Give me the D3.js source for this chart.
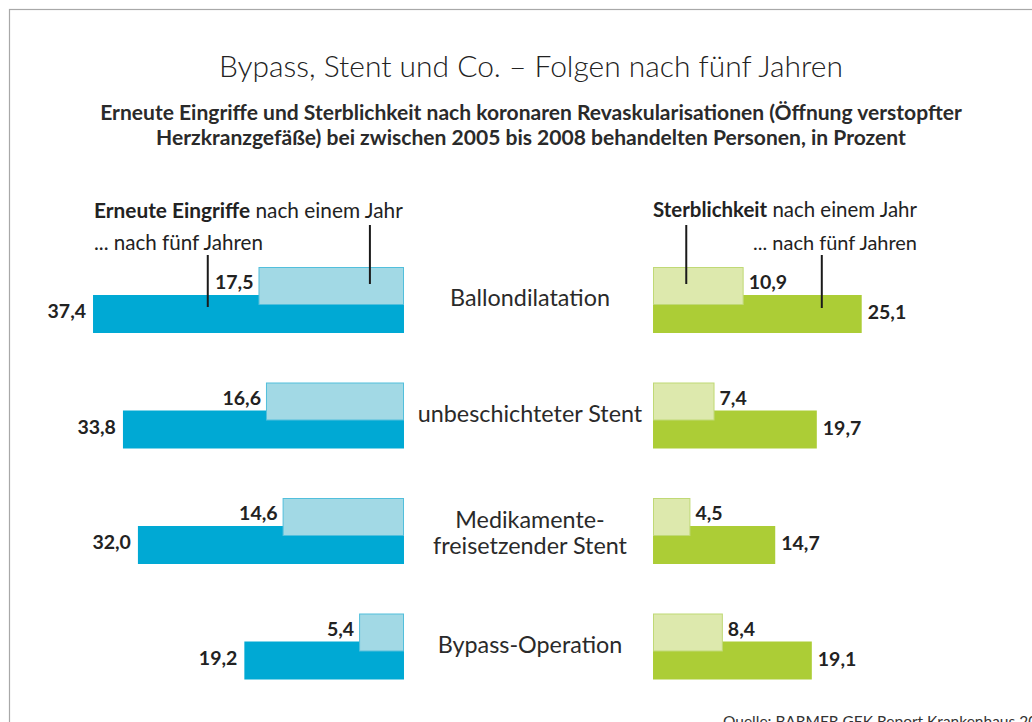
<!DOCTYPE html>
<html><head><meta charset="utf-8">
<script src="https://cdn.jsdelivr.net/npm/d3@7"></script>
<style>body{margin:0;background:#fff;overflow:hidden} svg{display:block}</style>
</head><body>
<script>
// ---- data ----
const categories = ["Ballondilatation", "unbeschichteter Stent", "Medikamente-\nfreisetzender Stent", "Bypass-Operation"];
const eingriffeEinJahr = [17.5, 16.6, 14.6, 5.4];
const eingriffeFuenfJahre = [37.4, 33.8, 32.0, 19.2];
const sterblichkeitEinJahr = [10.9, 7.4, 4.5, 8.4];
const sterblichkeitFuenfJahre = [25.1, 19.7, 14.7, 19.1];
const titleText = "Bypass, Stent und Co. – Folgen nach fünf Jahren";
const subtitleLines = ["Erneute Eingriffe und Sterblichkeit nach koronaren Revaskularisationen (Öffnung verstopfter",
                       "Herzkranzgefäße) bei zwischen 2005 bis 2008 behandelten Personen, in Prozent"];
const sourceText = "Quelle: BARMER GEK Report Krankenhaus 2013";

const FONT = "Lato, 'Open Sans', sans-serif";
const W = 1032, H = 722;
const fmt = v => d3.format(".1f")(v).replace(".", ",");

const svg = d3.select("body").append("svg").attr("width", W).attr("height", H)
  .style("font-family", FONT);

// frame
svg.append("rect").attr("x", 9.5).attr("y", 9.5).attr("width", 1100).attr("height", 800)
  .attr("fill", "none").attr("stroke", "#a8a8a8").attr("stroke-width", 1.2);

function fit(sel, target) {
  const size = parseFloat(sel.attr("font-size"));
  const len = sel.node().getComputedTextLength();
  sel.attr("font-size", size * target / len);
  return size * target / len;
}

// title
const t = svg.append("text").attr("x", 531).attr("y", 77).attr("text-anchor", "middle")
  .attr("font-size", 28).attr("font-weight", 300).attr("fill", "#222").text(titleText);
fit(t, 624);

// subtitle
const s1 = svg.append("text").attr("x", 531).attr("y", 120).attr("text-anchor", "middle")
  .attr("font-size", 17).attr("font-weight", 700).attr("fill", "#2a2a2a").text(subtitleLines[0]);
const subSize = fit(s1, 862);
svg.append("text").attr("x", 531).attr("y", 145).attr("text-anchor", "middle")
  .attr("font-size", subSize).attr("font-weight", 700).attr("fill", "#2a2a2a").text(subtitleLines[1]);

// scales
const xL = d3.scaleLinear().domain([0, 40]).range([404, 71.4]);
const xR = d3.scaleLinear().domain([0, 40]).range([653, 985.6]);
const y = d3.scaleBand().domain(categories).range([267, 729]).paddingInner(0);
const lightH = 37, darkOff = 28, darkH = 38;

const C = {blue: "#00a9d4", lblue: "#a2d9e5", lblueS: "#52bfdc",
           green: "#accd36", lgreen: "#dde9ad", lgreenS: "#c0d976", text: "#222"};

const rows = categories.map((c, i) => ({c, e1: eingriffeEinJahr[i], e5: eingriffeFuenfJahre[i],
  s1: sterblichkeitEinJahr[i], s5: sterblichkeitFuenfJahre[i]}));

const g = svg.append("g");
// dark bars
g.selectAll(".e5").data(rows).join("rect")
  .attr("x", d => xL(d.e5)).attr("y", d => y(d.c) + darkOff)
  .attr("width", d => xL(0) - xL(d.e5)).attr("height", darkH).attr("fill", C.blue);
g.selectAll(".s5").data(rows).join("rect")
  .attr("x", xR(0)).attr("y", d => y(d.c) + darkOff)
  .attr("width", d => xR(d.s5) - xR(0)).attr("height", darkH).attr("fill", C.green);
// light bars
g.selectAll(".e1").data(rows).join("rect")
  .attr("x", d => xL(d.e1) + 0.5).attr("y", d => y(d.c) + 0.5)
  .attr("width", d => xL(0) - xL(d.e1) - 1).attr("height", lightH)
  .attr("fill", C.lblue).attr("stroke", C.lblueS).attr("stroke-width", 1);
g.selectAll(".s1").data(rows).join("rect")
  .attr("x", xR(0) + 0.5).attr("y", d => y(d.c) + 0.5)
  .attr("width", d => xR(d.s1) - xR(0) - 1).attr("height", lightH)
  .attr("fill", C.lgreen).attr("stroke", C.lgreenS).attr("stroke-width", 1);

// value labels
const VS = 19.5;
const lab = (sel) => sel.attr("font-size", VS).attr("font-weight", 700).attr("fill", C.text);
g.selectAll(".le5").data(rows).join("text").call(lab)
  .attr("x", d => xL(d.e5) - 7).attr("y", d => y(d.c) + darkOff + 23).attr("text-anchor", "end").text(d => fmt(d.e5));
g.selectAll(".le1").data(rows).join("text").call(lab)
  .attr("x", d => xL(d.e1) - 5).attr("y", d => y(d.c) + 22).attr("text-anchor", "end").text(d => fmt(d.e1));
g.selectAll(".ls1").data(rows).join("text").call(lab)
  .attr("x", d => xR(d.s1) + 5).attr("y", d => y(d.c) + 22).attr("text-anchor", "start").text(d => fmt(d.s1));
g.selectAll(".ls5").data(rows).join("text").call(lab)
  .attr("x", d => xR(d.s5) + 6).attr("y", d => y(d.c) + darkOff + 24).attr("text-anchor", "start").text(d => fmt(d.s5));

// category labels
const catSize = (() => {
  const tmp = svg.append("text").attr("font-size", 22).attr("font-weight", 400).text("Ballondilatation");
  const sz = fit(tmp, 160); tmp.remove(); return sz;
})();
rows.forEach(d => {
  const lines = d.c.split("\n");
  lines.forEach((ln, k) => {
    g.append("text").attr("text-anchor", "middle").attr("font-size", catSize)
      .attr("font-weight", 400).attr("fill", "#2a2a2a")
      .attr("x", 530).attr("y", y(d.c) + 39 - (lines.length - 1) * 9 + k * 26).text(ln);
  });
});

// annotations
const AS = 18;
const a1 = svg.append("text").attr("x", 94).attr("y", 218).attr("font-size", AS).attr("fill", C.text);
a1.append("tspan").attr("font-weight", 700).text("Erneute Eingriffe");
a1.append("tspan").attr("font-weight", 400).text(" nach einem Jahr");
fit(a1, 309);
const a2 = svg.append("text").attr("x", 94).attr("y", 250).attr("font-size", AS).attr("fill", C.text)
  .attr("font-weight", 400).text("... nach fünf Jahren");
fit(a2, 169);
const b1 = svg.append("text").attr("x", 653).attr("y", 217).attr("font-size", AS).attr("fill", C.text);
b1.append("tspan").attr("font-weight", 700).text("Sterblichkeit");
b1.append("tspan").attr("font-weight", 400).text(" nach einem Jahr");
fit(b1, 264);
const b2 = svg.append("text").attr("x", 917).attr("y", 250).attr("font-size", AS).attr("fill", C.text)
  .attr("text-anchor", "end").attr("font-weight", 400).text("... nach fünf Jahren");
fit(b2, 164);

// leader lines
const r0 = categories[0];
const leaders = [
  [xL(4.1), 225, y(r0) + 17],
  [xL(23.6), 255, y(r0) + darkOff + 12],
  [xR(4), 225, y(r0) + 17],
  [xR(20.3), 255, y(r0) + darkOff + 13]
];
svg.selectAll(".lead").data(leaders).join("line")
  .attr("x1", d => d[0]).attr("x2", d => d[0]).attr("y1", d => d[1]).attr("y2", d => d[2])
  .attr("stroke", "#1a1a1a").attr("stroke-width", 2);

// source (cut off by the picture edge, as in the original)
svg.append("text").attr("x", 723).attr("y", 727).attr("font-size", 15.5).attr("fill", "#333")
  .attr("font-weight", 400).text(sourceText);
</script>
</body></html>
